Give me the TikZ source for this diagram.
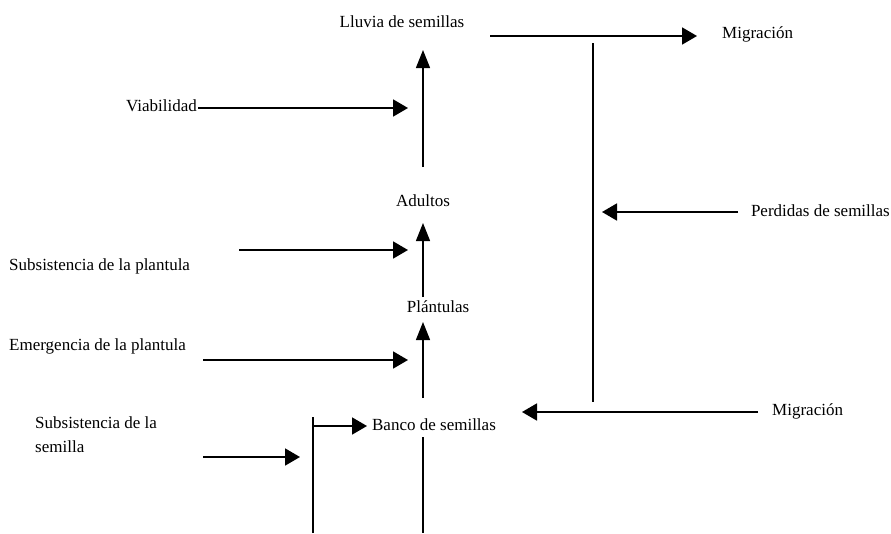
\documentclass[tikz,border=0pt]{standalone}
\usepackage{fontspec}
\setmainfont{Liberation Serif}
\usetikzlibrary{arrows.meta,positioning}

\begin{document}
\begin{tikzpicture}[
  x=1pt, y=-1pt,
  lbl/.style={font=\fontsize{17}{24}\selectfont, inner sep=1pt, align=left},
  flow/.style={-{Triangle[length=15pt,width=17pt]}, line width=1.8pt},
  rise/.style={-{Triangle[length=18pt,width=14pt]}, line width=1.2pt},
  rail/.style={line width=1.2pt},
]
\useasboundingbox (0,0) rectangle (891,533);

% ── Stages (centre column) ──────────────────────────────────────────────
\node[lbl] (lluvia)    at (402,22)  {Lluvia de semillas};
\node[lbl] (adultos)   at (423,201) {Adultos};
\node[lbl] (plantulas) at (438,307) {Plántulas};
\node[lbl] (banco)     at (434,425) {Banco de semillas};

% ── Factors (left) ──────────────────────────────────────────────────────
\node[lbl, anchor=east] (viab)  at (198,106) {Viabilidad};
\node[lbl, anchor=west] (subpl) at (8,266)   {Subsistencia de la plantula};
\node[lbl, anchor=west] (emerg) at (8,346)   {Emergencia de la plantula};
\node[lbl, anchor=north west] (subsem) at (34,415) {Subsistencia de la\\semilla};

% ── Flows (right) ───────────────────────────────────────────────────────
\node[lbl, anchor=west] (migtop)   at (721,34)  {Migración};
\node[lbl, anchor=east] (perdidas) at (891,211) {Perdidas de semillas};
\node[lbl, anchor=west] (migbot)   at (771,411) {Migración};

% ── Free ends ───────────────────────────────────────────────────────────
\coordinate (lluviaOut) at (490,36);
\coordinate (migTip)    at (697,36);
\coordinate (railTop)   at (593,43);
\coordinate (railBot)   at (593,402);
\coordinate (lossTip)   at (602,212);
\coordinate (lossTail)  at (738,212);
\coordinate (migInTip)  at (522,412);
\coordinate (migInTail) at (758,412);
\coordinate (adTop)     at (423,167);
\coordinate (lluviaIn)  at (423,50);
\coordinate (viabTip)   at (408,108);
\coordinate (plTop)     at (423,297);
\coordinate (adIn)      at (423,223);
\coordinate (subplTail) at (239,250);
\coordinate (subplTip)  at (408,250);
\coordinate (bancoTop)  at (423,398);
\coordinate (plIn)      at (423,322);
\coordinate (emergTail) at (203,360);
\coordinate (emergTip)  at (408,360);
\coordinate (bancoLow)  at (423,437);
\coordinate (bancoEnd)  at (423,533);
\coordinate (sideTop)   at (313,417);
\coordinate (sideBot)   at (313,533);
\coordinate (sideKnee)  at (313,426);
\coordinate (bancoIn)   at (367,426);
\coordinate (subsemTail) at (203,457);
\coordinate (subsemTip)  at (300,457);

% ── Arrows ──────────────────────────────────────────────────────────────
\draw[flow] (lluviaOut) -- (migTip);
\draw[rail] (railTop) -- (railBot);
\draw[flow] (lossTail) -- (lossTip);
\draw[flow] (migInTail) -- (migInTip);

\draw[rise] (adTop) -- (lluviaIn);
\draw[flow] (viab.east |- viabTip) -- (viabTip);
\draw[rise] (plTop) -- (adIn);
\draw[flow] (subplTail) -- (subplTip);
\draw[rise] (bancoTop) -- (plIn);
\draw[flow] (emergTail) -- (emergTip);

\draw[rail] (bancoLow) -- (bancoEnd);
\draw[rail] (sideBot) -- (sideTop);
\draw[flow] (sideKnee) -- (bancoIn);
\draw[flow] (subsemTail) -- (subsemTip);

\end{tikzpicture}
\end{document}
